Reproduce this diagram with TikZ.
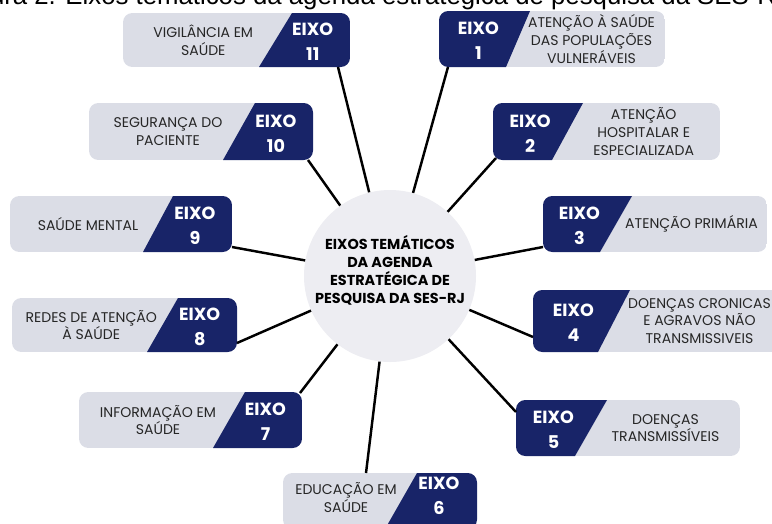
\documentclass[tikz,border=0pt]{standalone}
\usepackage{fontspec}
\setmainfont{Poppins}
\newfontfamily\legfont{Liberation Sans}
\usetikzlibrary{positioning}
\definecolor{navy}{RGB}{24,36,104}
\definecolor{cinza}{RGB}{219,221,230}
\definecolor{fundo}{RGB}{237,237,242}
\tikzset{
  rotulo/.style={font=\fontsize{12}{15.2}\selectfont, align=center, text=black!85, inner sep=0},
  eixo/.style={font=\fontsize{15}{21}\selectfont\bfseries, align=center, text=white, inner sep=0},
  raio/.style={line width=2.1pt, black},
}

\begin{document}
\begin{tikzpicture}[x=0.03cm,y=-0.03cm]
	\useasboundingbox (0,0) rectangle (772,523);
	\clip (0,0) rectangle (772,523);
	% legenda (cortada no topo)
	\node[anchor=base west, inner sep=0, font=\legfont\fontsize{22}{26}\selectfont] (leg) at (-46,4) {Figura 2. Eixos temáticos da agenda estratégica de pesquisa da SES-RJ};
	
	% circulo central
	\node[circle, fill=fundo, minimum size=5.16cm] (C) at (390,276) {};
	\node[font=\fontsize{12.3}{15.3}\selectfont\bfseries, align=center] (CT) at (390,270) {EIXOS TEMÁTICOS\\DA AGENDA\\ESTRATÉGICA DE\\PESQUISA DA SES-RJ};
	
	% eixos com o numero a direita
	\foreach \n/\xa/\ya/\xb/\yb/\st/\sb/\dy/\txt in {
		11/123/13/350/67/292/259/0/{VIGILÂNCIA EM\\SAÚDE},
		10/89/103/313/160/255/223/0/{SEGURANÇA DO\\PACIENTE},
		9/10/196/232/252/173/143/0/{SAÚDE MENTAL},
		8/12/298/237/352/178/147/0/{REDES DE ATENÇÃO\\À SAÚDE},
		7/79/392/302/448/245/213/0/{INFORMAÇÃO EM\\SAÚDE},
		6/283/473/477/529/417/385/-7/{EDUCAÇÃO EM\\SAÚDE}}
	{
		\begin{scope}
			\clip[rounded corners=8] (\xa,\ya) rectangle (\xb,\yb);
			\fill[cinza] (\xa,\ya) rectangle (\xb,\yb);
			\fill[navy] (\sb,\yb) -- (\st,\ya) -- (\xb,\ya) -- (\xb,\yb) -- cycle;
		\end{scope}
		\node[rotulo] (t\n) at ({(\xa+(\st+\sb)/2)/2+4},{(\ya+\yb)/2+\dy/2}) {\txt};
		\node[eixo] (e\n) at ({((\st+\sb)/2+\xb)/2},{(\ya+\yb)/2+2+\dy}) {EIXO\\\n};
	}
	
	% eixos com o numero a esquerda
	\foreach \n/\xa/\ya/\xb/\yb/\st/\sb/\txt in {
		1/439/11/665/67/530/506/{ATENÇÃO À SAÚDE\\DAS POPULAÇÕES\\VULNERÁVEIS},
		2/493/103/720/160/583/552/{ATENÇÃO\\HOSPITALAR E\\ESPECIALIZADA},
		3/543/196/767/252/632/600/{ATENÇÃO PRIMÁRIA},
		4/533/290/785/352/630/598/{DOENÇAS CRONICAS\\E AGRAVOS NÃO\\TRANSMISSIVEIS},
		5/516/400/740/456/607/575/{DOENÇAS\\TRANSMISSÍVEIS}}
	{
		\begin{scope}
			\clip[rounded corners=8] (\xa,\ya) rectangle (\xb,\yb);
			\fill[cinza] (\xa,\ya) rectangle (\xb,\yb);
			\fill[navy] (\xa,\ya) -- (\st,\ya) -- (\sb,\yb) -- (\xa,\yb) -- cycle;
		\end{scope}
		\node[rotulo] (t\n) at ({(\xb+(\st+\sb)/2)/2},{(\ya+\yb)/2}) {\txt};
		\node[eixo] (e\n) at ({((\st+\sb)/2+\xa)/2},{(\ya+\yb)/2+2}) {EIXO\\\n};
	}
	
	% ligacoes ao centro
	\foreach \n/\px/\py in {11/338/67, 1/448/67, 10/308/160, 2/496/158, 9/232/247, 3/543/247, 8/237/343, 4/533/337, 7/300/393, 5/516/412, 6/366/473}
	{
		\coordinate (p\n) at (\px,\py);
		\draw[raio] (C) -- (p\n);
	}
\end{tikzpicture}
\end{document}
